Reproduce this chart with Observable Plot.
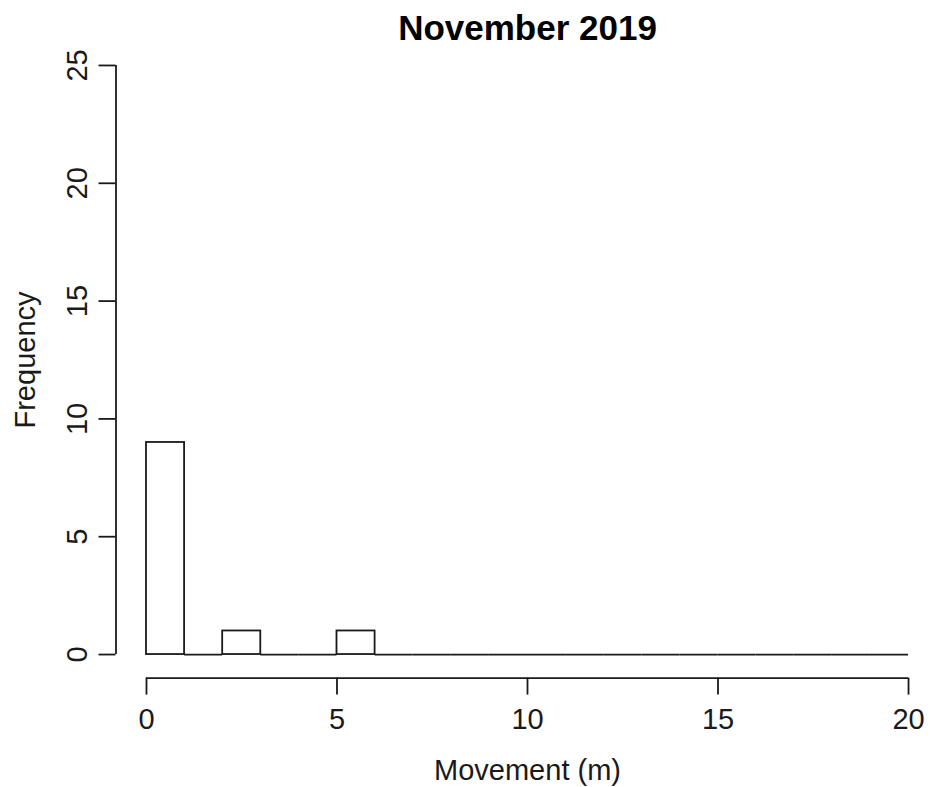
<!DOCTYPE html>
<html>
<head>
<meta charset="utf-8">
<script src="https://cdn.jsdelivr.net/npm/d3@7"></script>
<script src="https://cdn.jsdelivr.net/npm/@observablehq/plot@0.6"></script>
<style>
  html, body { margin: 0; padding: 0; background: white; overflow: hidden; }
</style>
</head>
<body>
<div id="chart"></div>
<script>
// Histogram of movement (m), bins of width 1 from 0 to 20
const binStarts = [0,1,2,3,4,5,6,7,8,9,10,11,12,13,14,15,16,17,18,19];
const binEnds   = [1,2,3,4,5,6,7,8,9,10,11,12,13,14,15,16,17,18,19,20];
const counts    = [9,0,1,0,0,1,0,0,0,0,0,0,0,0,0,0,0,0,0,0];
const xTicks = [0, 5, 10, 15, 20];
const yTicks = [0, 5, 10, 15, 20, 25];
const title = "November 2019";
const xLabel = "Movement (m)";
const yLabel = "Frequency";

const bins = binStarts.map((s, i) => ({x1: s, x2: binEnds[i], count: counts[i]}));

// R-style 4% axis extension
const xDomain = [-0.8, 20.8];
const yDomain = [-1, 26];

const ink = "#1a1a1a";
const font = "'Liberation Sans', Arial, Helvetica, sans-serif";

const chart = Plot.plot({
  width: 930,
  height: 787,
  marginLeft: 115.5,
  marginRight: -8.5,
  marginTop: 41.4,
  marginBottom: 109.4,
  style: {fontFamily: font, background: "white", color: ink, overflow: "visible"},
  x: {domain: xDomain, axis: null},
  y: {domain: yDomain, axis: null},
  marks: [
    // bars
    Plot.rect(bins.filter(d => d.count > 0), {
      x1: "x1", x2: "x2", y1: () => 0, y2: "count",
      fill: "white", stroke: ink, strokeWidth: 1.8
    }),
    // zero-height bins drawn as flat lines on the baseline
    Plot.ruleY(bins.filter(d => d.count === 0), {
      x1: "x1", x2: "x2", y: "count", stroke: ink, strokeWidth: 1.8
    }),
    // x axis
    Plot.ruleY([{y: yDomain[0], x1: xTicks[0], x2: xTicks[xTicks.length - 1]}], {
      y: "y", x1: "x1", x2: "x2", stroke: ink, strokeWidth: 1.8
    }),
    Plot.axisX({
      ticks: xTicks, tickSize: 17, tickPadding: 13, fontSize: 29,
      tickFormat: d3.format("d"), label: null, stroke: ink, strokeWidth: 1.8, fill: ink
    }),
    // y axis
    Plot.ruleX([{x: xDomain[0], y1: yTicks[0], y2: yTicks[yTicks.length - 1]}], {
      x: "x", y1: "y1", y2: "y2", stroke: ink, strokeWidth: 1.8
    }),
    Plot.axisY({
      ticks: yTicks, tickSize: 17, tickFormat: () => "", label: null,
      stroke: ink, strokeWidth: 1.8
    }),
    Plot.text(yTicks, {
      y: d => d, frameAnchor: "left", dx: -38.5, rotate: -90,
      text: d => String(d), fontSize: 29, fill: ink,
      textAnchor: "middle", lineAnchor: "middle"
    }),
    // axis titles
    Plot.text([xLabel], {
      text: d => d, frameAnchor: "bottom", dy: 93,
      fontSize: 29, fill: ink, lineAnchor: "middle"
    }),
    Plot.text([yLabel], {
      text: d => d, frameAnchor: "left", dx: -90.5, rotate: -90,
      fontSize: 29, fill: ink, lineAnchor: "middle", textAnchor: "middle"
    }),
    // main title
    Plot.text([title], {
      text: d => d, frameAnchor: "top", dy: -13.5,
      fontSize: 35, fontWeight: "bold", fill: "black", lineAnchor: "middle"
    })
  ]
});

document.getElementById("chart").appendChild(chart);
</script>
</body>
</html>
